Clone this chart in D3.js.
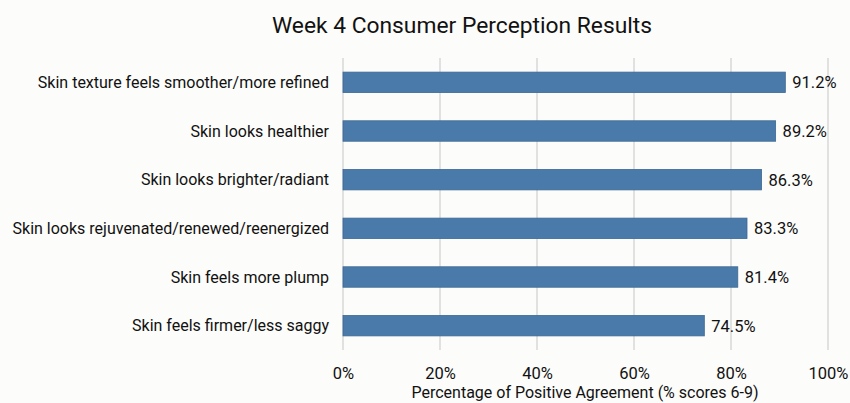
<!DOCTYPE html>
<html><head><meta charset="utf-8">
<script src="https://cdn.jsdelivr.net/npm/d3@7"></script>
<style>
html,body{margin:0;padding:0;background:#fcfcfa;}
text{font-family:Roboto,"Liberation Sans",Arial,sans-serif;font-weight:400;}
</style></head>
<body>
<svg id="chart" width="850" height="403"></svg>
<script>
const categories = [
  "Skin texture feels smoother/more refined",
  "Skin looks healthier",
  "Skin looks brighter/radiant",
  "Skin looks rejuvenated/renewed/reenergized",
  "Skin feels more plump",
  "Skin feels firmer/less saggy"
];
const values = [91.2, 89.2, 86.3, 83.3, 81.4, 74.5];
const tickValues = [0, 20, 40, 60, 80, 100];
const title = "Week 4 Consumer Perception Results";
const xTitle = "Percentage of Positive Agreement (% scores 6-9)";

const svg = d3.select("#chart");
const W = 850, H = 403;
svg.append("rect").attr("width", W).attr("height", H).attr("fill", "#fcfcfa");

const x = d3.scaleLinear().domain([0, 100]).range([343, 828]);
const y = d3.scaleBand().domain(categories).range([58, 350]).paddingInner(0.58).paddingOuter(0.29);

// gridlines
svg.append("g").selectAll("line").data(tickValues).join("line")
  .attr("x1", d => x(d)).attr("x2", d => x(d))
  .attr("y1", 58).attr("y2", 350)
  .attr("stroke", "#cfcfcf").attr("stroke-width", 1.2);

// bars
svg.append("g").selectAll("rect").data(values).join("rect")
  .attr("x", x(0))
  .attr("y", (d, i) => y(categories[i]))
  .attr("width", d => x(d) - x(0))
  .attr("height", y.bandwidth())
  .attr("fill", "#4a7aa9")
  .attr("stroke", "#3d6894").attr("stroke-width", 0.8);

// value labels
svg.append("g").selectAll("text").data(values).join("text")
  .attr("x", d => x(d) + 7)
  .attr("y", (d, i) => y(categories[i]) + y.bandwidth() / 2)
  .attr("dy", "0.36em")
  .attr("font-size", 16.5)
  .attr("fill", "#111")
  .text(d => d.toFixed(1) + "%");

// category labels
svg.append("g").selectAll("text").data(categories).join("text")
  .attr("x", 329)
  .attr("y", d => y(d) + y.bandwidth() / 2)
  .attr("dy", "0.36em")
  .attr("text-anchor", "end")
  .attr("font-size", 16)
  .attr("fill", "#111")
  .text(d => d);

// x axis
const xAxis = d3.axisBottom(x).tickValues(tickValues).tickFormat(d => d + "%").tickSize(0).tickPadding(0);
const gx = svg.append("g").attr("transform", "translate(0,368)").call(xAxis);
gx.select(".domain").remove();
gx.selectAll("text").attr("font-size", 16.5).attr("fill", "#111")
  .attr("font-family", "Roboto, 'Liberation Sans', Arial, sans-serif")
  .attr("font-weight", 400).attr("dy", "0.36em").attr("y", 5);

svg.append("text").attr("x", 585).attr("y", 398)
  .attr("text-anchor", "middle").attr("font-size", 16).attr("fill", "#111").text(xTitle);

svg.append("text").attr("x", 462).attr("y", 33)
  .attr("text-anchor", "middle").attr("font-size", 22.8).attr("fill", "#111").text(title);
</script>
</body></html>
